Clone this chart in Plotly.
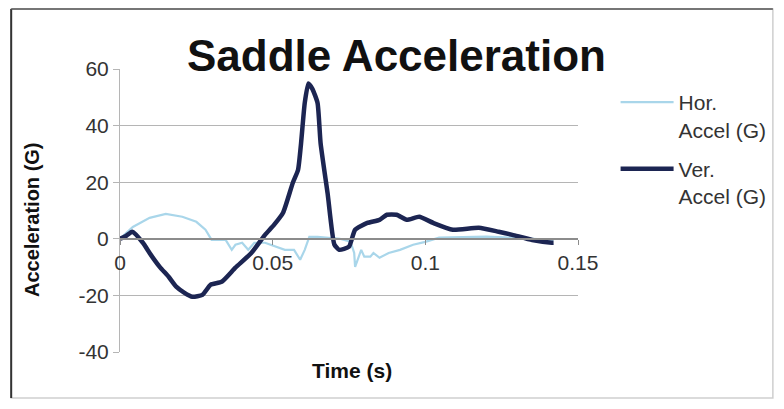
import plotly.graph_objects as go

# Data
ver_t = [0, 0.002, 0.004, 0.0075, 0.010, 0.013, 0.016, 0.0184, 0.021, 0.0237, 0.027,
         0.0297, 0.0333, 0.0378, 0.043, 0.0475, 0.0505, 0.0534, 0.0566, 0.0583, 0.0593,
         0.0605, 0.0617, 0.063, 0.0647, 0.0657, 0.068, 0.0702, 0.0718, 0.075, 0.077,
         0.081, 0.085, 0.0874, 0.0906, 0.0939, 0.098, 0.1026, 0.109, 0.1175, 0.124,
         0.1285, 0.135, 0.1414, 0.142]
ver_g = [0, 1, 2.5, -1.4, -5.5, -9.9, -13.5, -16.9, -19, -20.5, -19.8,
         -16.2, -15.2, -10.2, -5, 1.4, 5, 9.2, 19.8, 24.3, 33.8,
         48, 54.9, 53, 48, 33.8, 16, -2, -3.9, -2.8, 3.2,
         5.6, 6.7, 8.5, 8.5, 6.7, 7.8, 5.6, 3.2, 3.9, 2.5,
         1.4, -0.4, -1.4, -1.4]

hor_t = [0, 0.0042, 0.0097, 0.015, 0.0204, 0.025, 0.028, 0.030, 0.0346, 0.0366, 0.0378,
         0.040, 0.042, 0.044, 0.0475, 0.051, 0.054, 0.057, 0.059, 0.0605, 0.062, 0.0647,
         0.069, 0.072, 0.0755, 0.0767, 0.077, 0.079, 0.080, 0.082, 0.083, 0.085, 0.088,
         0.0917, 0.096, 0.100, 0.1045, 0.11, 0.12, 0.13, 0.14, 0.142]
hor_g = [0, 4.2, 7.4, 8.8, 7.8, 6, 3.2, -0.4, -0.4, -3.9, -2.1,
         -1.4, -3.9, -1.4, -1.4, -2.8, -3.9, -3.9, -7.4, -3.9, 0.7, 0.7,
         0.4, 0, -1, -5, -9.9, -3.9, -6.3, -6.3, -5, -6.7, -5,
         -3.9, -2.1, -1.1, 0.4, 0.5, 0.8, 0.3, -0.5, -0.5]

x_ticks = [0, 0.05, 0.1, 0.15]
x_tick_labels = ["0", "0.05", "0.1", "0.15"]
y_ticks = [-40, -20, 0, 20, 40, 60]
y_tick_labels = ["-40", "-20", "0", "20", "40", "60"]

FONT = "Liberation Sans, Arial, sans-serif"

# figure pixel geometry (page body has an 8px margin)
L, T, PW, PH = 112, 61, 463, 283
W, H = 776, 401


def px(x):
    return (x - L) / PW


def py(y):
    return (T + PH - y) / PH


fig = go.Figure()
fig.add_trace(go.Scatter(x=hor_t, y=hor_g, mode="lines", name="Hor.<br>Accel (G)",
                         legendgroup="h",
                         line=dict(color="#a9d6ea", width=2.2)))
fig.add_trace(go.Scatter(x=ver_t, y=ver_g, mode="lines", name="Ver.<br>Accel (G)",
                         legendgroup="v",
                         line=dict(color="#1c2552", width=4.5, shape="spline",
                                   smoothing=0.5)))

fig.update_layout(
    width=W, height=H,
    margin=dict(l=L, r=W - L - PW, t=T, b=H - T - PH),
    paper_bgcolor="white", plot_bgcolor="white",
    font=dict(family=FONT, size=21, color="#333333"),
    showlegend=True,
    legend=dict(x=px(613), y=py(74), xanchor="left", yanchor="top",
                font=dict(size=21, color="#333333"), tracegroupgap=9,
                itemwidth=53, valign="top", bgcolor="rgba(0,0,0,0)"),
    xaxis=dict(range=[0, 0.15], tickvals=x_ticks, ticktext=x_tick_labels,
               showgrid=False, zeroline=False, showline=True, linecolor="#8c8c8c",
               linewidth=1.5, ticks="outside", ticklen=5, tickcolor="#8c8c8c",
               anchor="free", position=0.4, tickfont=dict(size=21, color="#333333")),
    yaxis=dict(range=[-40, 60], tickvals=y_ticks, ticktext=y_tick_labels,
               showgrid=True, gridcolor="#b5b5b5",
               gridwidth=1, zeroline=False, showline=True, linecolor="#b5b5b5",
               ticks="outside", ticklen=6, tickcolor="#b5b5b5",
               tickfont=dict(size=21, color="#333333")),
    annotations=[
        dict(text="<b>Saddle Acceleration</b>", xref="paper", yref="paper",
             x=px(392), y=py(47), showarrow=False,
             font=dict(size=44, color="#111111", family=FONT),
             xanchor="center", yanchor="middle"),
        dict(text="<b>Time (s)</b>", xref="paper", yref="paper",
             x=px(347), y=py(362), showarrow=False,
             font=dict(size=21, color="#111111", family=FONT),
             xanchor="center", yanchor="middle"),
        dict(text="<b>Acceleration (G)</b>", xref="paper", yref="paper",
             x=px(23), y=py(212), showarrow=False, textangle=-90,
             font=dict(size=20, color="#111111", family=FONT),
             xanchor="center", yanchor="middle"),
    ],
    shapes=[
        dict(type="rect", xref="paper", yref="paper",
             x0=px(2), x1=px(772), y0=py(390), y1=py(1),
             line=dict(color="#cfcfcf", width=1.5), layer="below"),
        dict(type="line", xref="paper", yref="paper",
             x0=px(2), x1=px(2), y0=py(390), y1=py(1),
             line=dict(color="#333333", width=2)),
        dict(type="line", xref="paper", yref="paper",
             x0=px(2), x1=px(772), y0=py(1), y1=py(1),
             line=dict(color="#555555", width=1.5)),
    ],
)

fig.write_html("out.html")
